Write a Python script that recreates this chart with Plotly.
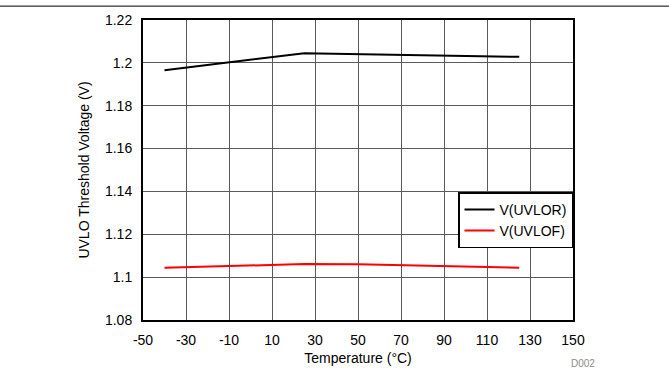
import plotly.graph_objects as go

temp_r = [-40, 25, 125]
uvlor = [1.1966, 1.2045, 1.2028]
temp_f = [-40, 25, 50, 90, 125]
uvlof = [1.1044, 1.1061, 1.1060, 1.1053, 1.1044]

x_ticks = [-50, -30, -10, 10, 30, 50, 70, 90, 110, 130, 150]
x_ticktext = ["-50", "-30", "-10", "10", "30", "50", "70", "90", "110", "130", "150"]
y_ticks = [1.08, 1.10, 1.12, 1.14, 1.16, 1.18, 1.20, 1.22]
y_ticktext = ["1.08", "1.1", "1.12", "1.14", "1.16", "1.18", "1.2", "1.22"]

FONT = "Liberation Sans, Arial, sans-serif"

fig = go.Figure()
fig.add_trace(go.Scatter(x=temp_r, y=uvlor, mode="lines", name="V(UVLOR)",
                         line=dict(color="black", width=2)))
fig.add_trace(go.Scatter(x=temp_f, y=uvlof, mode="lines", name="V(UVLOF)",
                         line=dict(color="#ff0000", width=2)))

fig.update_layout(
    width=669, height=381,
    margin=dict(l=143, r=96, t=17, b=61),
    paper_bgcolor="white", plot_bgcolor="white",
    font=dict(family=FONT, size=14, color="black"),
    showlegend=True,
    legend=dict(x=1, xanchor="right", y=0.4257, yanchor="top",
                bgcolor="white", bordercolor="black", borderwidth=1.5,
                font=dict(family=FONT, size=14), tracegroupgap=0,
                itemwidth=30),
    xaxis=dict(range=[-50, 150], tickvals=x_ticks, ticktext=x_ticktext,
               showgrid=True, gridcolor="#5a5a5a", gridwidth=1,
               showline=True, linecolor="black", linewidth=2, mirror=True,
               ticks="", zeroline=False, ticklabelstandoff=6,
               title=dict(text="Temperature (°C)", standoff=6, font=dict(size=14))),
    yaxis=dict(range=[1.08, 1.22], tickvals=y_ticks, ticktext=y_ticktext,
               showgrid=True, gridcolor="#5a5a5a", gridwidth=1,
               showline=True, linecolor="black", linewidth=2, mirror=True,
               ticks="", zeroline=False, ticklabelstandoff=6,
               title=dict(text="UVLO Threshold Voltage (V)", standoff=12, font=dict(size=14))),
    shapes=[dict(type="line", xref="paper", yref="paper", x0=-143/430, x1=(669-143)/430,
                 y0=(381-61-3)/303, y1=(381-61-3)/303,
                 line=dict(color="black", width=1))],
    annotations=[dict(text="D002", xref="paper", yref="paper", x=(583-143)/430,
                      y=-(364-320)/303, xanchor="center", yanchor="middle",
                      showarrow=False, font=dict(size=10, color="#8c8c8c", family=FONT))],
)

fig.write_html("out.html")
